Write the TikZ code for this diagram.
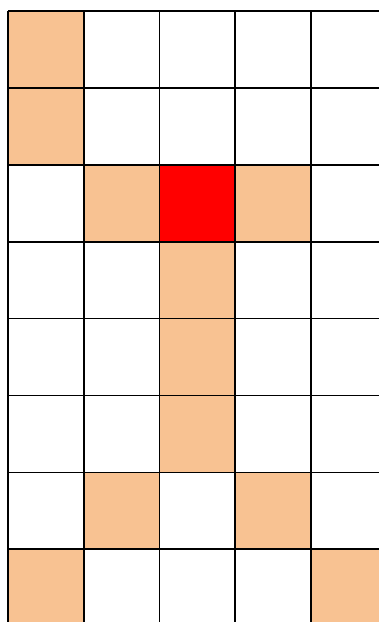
\documentclass[tikz,border=0pt]{standalone}
\definecolor{peach}{RGB}{248,194,146}
\definecolor{hot}{RGB}{255,0,0}
\begin{document}
\begin{tikzpicture}[x=1pt,y=-1pt,
  cellfill/.style={fill=peach},
  hotfill/.style={fill=hot},
  gridline/.style={draw=black,line width=1.7pt}]
\useasboundingbox (0,0) rectangle (379,622);
\clip (0,0) rectangle (379,622);
\def\cw{75.75}
\def\ch{76.9}
\foreach \c/\r in {0/0,0/1,1/2,3/2,2/3,2/4,2/5,1/6,3/6,0/7,4/7}
  \path[cellfill] ({8+\c*\cw},{11+\r*\ch}) rectangle ++(\cw,\ch);
\path[hotfill] ({8+2*\cw},{11+2*\ch}) rectangle ++(\cw,\ch);
\foreach \i in {0,...,5}
  \draw[gridline] ({8+\i*\cw},11) -- ({8+\i*\cw},640);
\foreach \j in {0,...,8}
  \draw[gridline] (8,{11+\j*\ch}) -- (400,{11+\j*\ch});
\end{tikzpicture}
\end{document}
